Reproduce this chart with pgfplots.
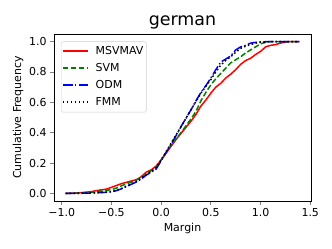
\documentclass[border=0pt]{standalone}
\usepackage{pgfplots}
\pgfplotsset{compat=1.18}
\usepackage{fontspec}
\setmainfont{DejaVu Sans}
\definecolor{mplgreen}{rgb}{0,0.5,0}
\begin{document}
\begin{tikzpicture}
\useasboundingbox (-54bp,-48bp) rectangle (278bp,201bp);
\begin{axis}[
  at={(0,0)}, anchor=south west,
  scale only axis, width=257bp, height=167bp,
  xmin=-1.0775, xmax=1.5075, ymin=-0.05, ymax=1.05,
  xtick={-1,-0.5,0,0.5,1,1.5},
  xticklabels={−1.0,−0.5,0.0,0.5,1.0,1.5},
  ytick={0,0.2,0.4,0.6,0.8,1.0},
  yticklabels={0.0,0.2,0.4,0.6,0.8,1.0},
  ticklabel style={font=\fontsize{11}{13}\selectfont, inner sep=3.3bp},
  tick align=outside, major tick length=3.85bp,
  tick style={line width=0.8bp},
  axis line style={line width=0.8bp},
  xtick pos=bottom, ytick pos=left,
  xlabel={Margin}, ylabel={Cumulative Frequency},
  label style={font=\fontsize{11}{13}\selectfont},
  xlabel style={yshift=0bp},
  ylabel style={yshift=-1bp},
  title={german}, title style={font=\fontsize{17.5}{20}\selectfont, yshift=-5bp},
  legend style={font=\fontsize{11}{13}\selectfont, draw=black!20, rounded corners=2bp,
    at={(0,1)}, anchor=north west, xshift=7bp, yshift=-7.5bp,
    inner xsep=1bp, inner ysep=2.5bp, row sep=2.5bp, column sep=5bp,
    nodes={text height=8bp, text depth=2.5bp, inner sep=2bp}},
  legend cell align=left,
  legend image code/.code={\draw[mark repeat=2,mark phase=2,#1] plot coordinates {(0bp,0.5bp) (12.5bp,0.5bp) (25bp,0.5bp)};},
]
\addplot[color=red, line width=1.5bp] coordinates {
(-0.96,0) (-0.8,0.005) (-0.7,0.012) (-0.6,0.024) (-0.55,0.028) (-0.5,0.04) (-0.45,0.052) (-0.4,0.064) (-0.3,0.082) (-0.25,0.09) (-0.2,0.11) (-0.15,0.14) (-0.1,0.155) (-0.05,0.18) (0,0.22) (0.05,0.265) (0.1,0.31) (0.15,0.355) (0.2,0.395) (0.25,0.435) (0.3,0.475) (0.35,0.52) (0.4,0.575) (0.45,0.615) (0.5,0.66) (0.55,0.70) (0.6,0.725) (0.65,0.76) (0.7,0.785) (0.75,0.815) (0.8,0.85) (0.85,0.875) (0.9,0.89) (0.95,0.915) (1.0,0.935) (1.05,0.965) (1.1,0.975) (1.15,0.98) (1.2,0.99) (1.25,0.997) (1.3,1.0) (1.39,1.0)};
\addlegendentry{MSVMAV}
\addplot[color=mplgreen, line width=1.5bp, dash pattern=on 5.5bp off 2.4bp] coordinates {
(-0.96,0) (-0.8,0.003) (-0.7,0.008) (-0.6,0.015) (-0.5,0.025) (-0.45,0.035) (-0.4,0.05) (-0.35,0.062) (-0.3,0.075) (-0.25,0.088) (-0.2,0.105) (-0.15,0.125) (-0.1,0.15) (-0.05,0.175) (0,0.22) (0.05,0.27) (0.1,0.315) (0.15,0.36) (0.2,0.40) (0.25,0.445) (0.3,0.49) (0.35,0.54) (0.4,0.61) (0.45,0.665) (0.5,0.715) (0.55,0.755) (0.6,0.79) (0.65,0.825) (0.7,0.86) (0.75,0.88) (0.8,0.9) (0.85,0.925) (0.9,0.945) (0.95,0.965) (1.0,0.985) (1.05,0.995) (1.1,1.0) (1.39,1.0)};
\addlegendentry{SVM}
\addplot[color=blue, line width=1.5bp, dash pattern=on 9.6bp off 2.4bp on 1.5bp off 2.4bp] coordinates {
(-0.96,0) (-0.8,0.001) (-0.7,0.003) (-0.6,0.005) (-0.5,0.01) (-0.45,0.018) (-0.4,0.03) (-0.35,0.045) (-0.3,0.06) (-0.25,0.075) (-0.2,0.095) (-0.15,0.12) (-0.1,0.14) (-0.05,0.16) (0,0.215) (0.05,0.27) (0.1,0.325) (0.15,0.38) (0.2,0.44) (0.25,0.495) (0.3,0.55) (0.35,0.61) (0.4,0.665) (0.45,0.71) (0.5,0.76) (0.55,0.815) (0.6,0.865) (0.65,0.885) (0.7,0.905) (0.75,0.945) (0.8,0.965) (0.85,0.975) (0.9,0.99) (0.95,0.995) (1.0,0.998) (1.1,1.0) (1.39,1.0)};
\addlegendentry{ODM}
\addplot[color=black, line width=1.5bp, dash pattern=on 1.5bp off 2.5bp] coordinates {
(-0.96,0) (-0.8,0.001) (-0.7,0.003) (-0.6,0.006) (-0.5,0.012) (-0.45,0.02) (-0.4,0.032) (-0.35,0.047) (-0.3,0.062) (-0.25,0.078) (-0.2,0.1) (-0.15,0.125) (-0.1,0.145) (-0.05,0.17) (0,0.22) (0.05,0.275) (0.1,0.33) (0.15,0.385) (0.2,0.44) (0.25,0.495) (0.3,0.55) (0.35,0.605) (0.4,0.66) (0.45,0.705) (0.5,0.75) (0.55,0.8) (0.6,0.845) (0.65,0.875) (0.7,0.9) (0.75,0.93) (0.8,0.955) (0.85,0.97) (0.9,0.98) (0.95,0.99) (1.0,0.995) (1.1,1.0) (1.39,1.0)};
\addlegendentry{FMM}
\end{axis}
\end{tikzpicture}
\end{document}
